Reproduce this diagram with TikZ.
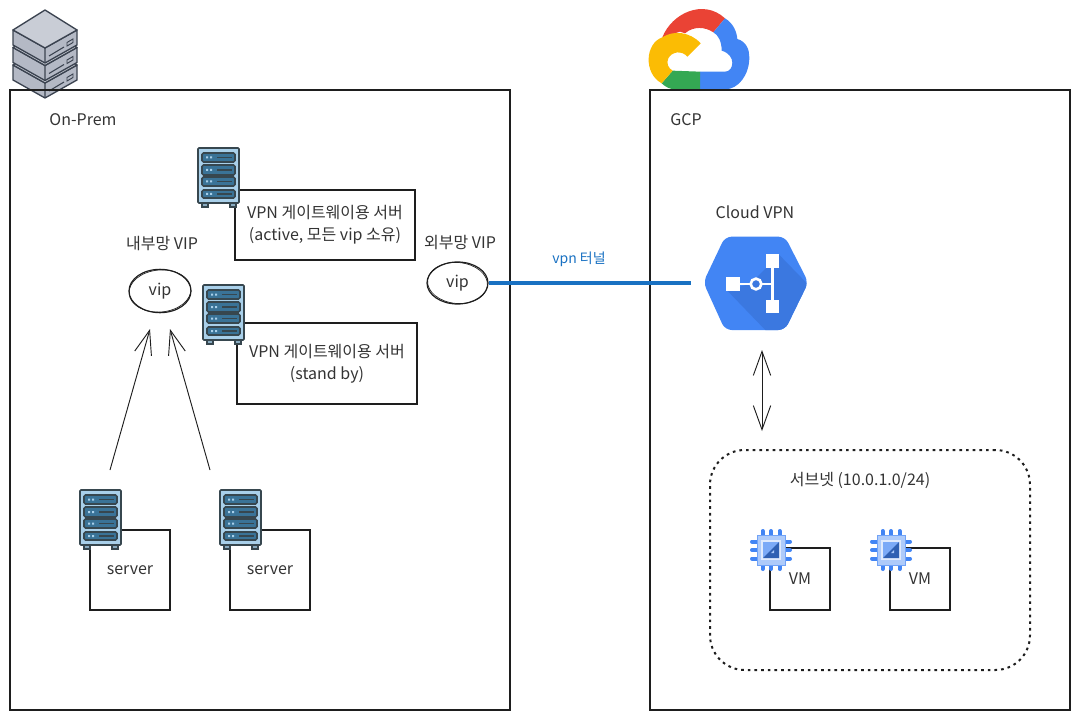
\documentclass[tikz,border=0pt]{standalone}
\usepackage{fontspec}
\setmainfont{Noto Sans CJK KR}
\usetikzlibrary{arrows.meta,shapes.geometric}
\definecolor{inkc}{HTML}{1E1E1E}
\definecolor{textc}{HTML}{333333}
\definecolor{rackc}{HTML}{37474F}
\definecolor{rackbg}{HTML}{A9D0EA}
\definecolor{slotc}{HTML}{3A7397}
\definecolor{stackc}{HTML}{3B4350}
\definecolor{stacktop}{HTML}{C9CDD6}
\definecolor{stackside}{HTML}{B4B9C5}
\definecolor{gblue}{HTML}{4285F4}
\definecolor{gblued}{HTML}{3B78E0}
\definecolor{gred}{HTML}{EA4335}
\definecolor{gyellow}{HTML}{FBBC04}
\definecolor{ggreen}{HTML}{34A853}
\definecolor{chipl}{HTML}{AECBFA}
\definecolor{tunnelc}{HTML}{1971C2}
\tikzset{
  box/.style = {draw=inkc, line width=1.5pt, align=center, text=textc},
  lbl/.style = {text=textc, align=center},
  vipnode/.style = {shape=ellipse, draw=inkc, line width=.9pt, text=textc, inner sep=0pt},
  flow/.style = {draw=inkc, line width=.7pt},
  rack/.pic = {
    \draw[rackc, line width=1pt, fill=slotc!60] (4,55) rectangle (10,59);
    \draw[rackc, line width=1pt, fill=slotc!60] (32,55) rectangle (38,59);
    \draw[rackc, line width=1.2pt, fill=rackbg, rounded corners=.8pt] (0,0) rectangle (41,55);
    \foreach \sy/\sh in {5/9, 17/10, 29/9, 42/8} {
      \draw[rackc, line width=1.2pt, fill=slotc, rounded corners=1.2pt] (4,\sy) rectangle +(33,\sh);
      \fill[rackbg] (8,\sy+\sh/2-1) rectangle +(2,2) (12,\sy+\sh/2-1) rectangle +(2,2);
      \draw[rackc, line width=.8pt] (19,\sy+\sh/2) -- +(15,0);
    }
  },
  chip/.pic = {
    \foreach \pp in {-8.5,0,8.5} {
      \draw[gblue, line width=3pt, line cap=round] (\pp,-19) -- (\pp,-14) (\pp,14) -- (\pp,19);
      \draw[gblue, line width=3pt, line cap=round] (-19,\pp) -- (-14,\pp) (14,\pp) -- (19,\pp);
    }
    \fill[chipl] (-14,-15) rectangle (14,15);
    \draw[gblue!75, line width=.6pt] (-14,-15) rectangle (14,15);
    \fill[chipl!40] (-10,-10) rectangle (10,10);
    \fill[gblue!70] (-8,-8) rectangle (8,8);
    \fill[gblued!80!black] (8,-8) -- (8,8) -- (-8,8) -- cycle;
    \fill[gblue!45] (3,0) -- (3,3) -- (0,3) -- cycle;
  }
}
\begin{document}
\begin{tikzpicture}[x=.75pt,y=-.75pt,font=\fontsize{12pt}{16.5pt}\selectfont]
\useasboundingbox (0,0) rectangle (1080,720);
% stack icon
\foreach \dy in {35,17.5,0} {
  \begin{scope}[shift={(0,\dy)}]
    \draw[stackc, line width=1pt, line join=round, fill=stackside] (13,30) -- (13,45) -- (45,63) -- (77,45) -- (77,30) -- (45,48) -- cycle;
    \draw[stackc, line width=1pt, line join=round, fill=stacktop] (45,10) -- (77,30) -- (45,48) -- (13,30) -- cycle;
    \draw[stackc, line width=.8pt] (45,48) -- (45,63) (49,56) -- (64,47);
    \draw[stackc, line width=.7pt] (67,46) -- (73,42.5) -- (73,39) -- (67,42.5) -- cycle;
  \end{scope}
}
% google cloud
\begin{scope}[shift={(630,0)},x=.25pt,y=-.25pt]
  \fill[gred] (97,112) .. controls (125,40) and (220,-5) .. (285,55) -- (250,97) .. controls (225,80) and (190,78) .. (165,100) -- (150,95) -- cycle;
  \fill[gblue] (285,55) .. controls (310,70) and (320,95) .. (322,117) .. controls (350,125) and (358,150) .. (358,172) .. controls (358,225) and (325,268) .. (285,268) -- (210,268) -- (210,215) -- (285,215) .. controls (312,215) and (320,165) .. (275,152) .. controls (275,125) and (265,105) .. (250,97) -- cycle;
  \fill[ggreen] (128,212) -- (210,215) -- (210,268) -- (135,268) .. controls (120,268) and (105,260) .. (95,250) -- cycle;
  \fill[gyellow] (95,250) .. controls (40,220) and (45,130) .. (97,112) .. controls (130,90) and (180,95) .. (212,130) -- (172,170) .. controls (155,150) and (125,155) .. (115,175) .. controls (108,190) and (115,205) .. (128,212) -- cycle;
\end{scope}
% outer boxes
\node[box, minimum width=375pt, minimum height=465pt] (onprem) at (260,400) {};
\node[box, minimum width=315pt, minimum height=465pt] (gcp) at (860,400) {};
\node[lbl] (onpremlbl) at (83,120) {On-Prem};
\node[lbl] (gcplbl) at (686,120) {GCP};
% vpn gateways
\node[box, minimum width=135pt, minimum height=52.5pt] (gwactive) at (325,225) {VPN 게이트웨이용 서버\\(active, 모든 vip 소유)};
\node[box, minimum width=135pt, minimum height=60.75pt] (gwstandby) at (327,363.5) {VPN 게이트웨이용 서버\\(stand by)};
\pic at (198,148) {rack};
\pic at (203,285) {rack};
% vips
\node[lbl] (vipinlbl) at (162,244) {내부망 VIP};
\node[lbl] (vipoutlbl) at (460,243) {외부망 VIP};
\node[vipnode, minimum width=46.5pt, minimum height=32.5pt] (vipin) at (160,291) {vip};
\node[vipnode, minimum width=45.75pt, minimum height=31.5pt] (vipout) at (457.5,283) {vip};
\draw[inkc, line width=.5pt, rotate around={5:(160,291)}] (160,291) ellipse [x radius=31, y radius=21];
\draw[inkc, line width=.5pt, rotate around={-5:(457.5,283)}] (457.5,283) ellipse [x radius=30, y radius=20.5];
% servers
\node[box, minimum width=60pt, minimum height=60pt] (srva) at (130,570) {server};
\node[box, minimum width=60pt, minimum height=60pt] (srvb) at (270,570) {server};
\pic at (80,490) {rack};
\pic at (220,490) {rack};
\coordinate (srvaout) at (110,470);
\coordinate (srvbout) at (210,470);
\coordinate (vipina) at (150,329);
\coordinate (vipinb) at (170,329);
\draw[flow, -{Straight Barb[length=18pt,width=13pt]}] (srvaout) -- (vipina);
\draw[flow, -{Straight Barb[length=18pt,width=13pt]}] (srvbout) -- (vipinb);
% tunnel
\coordinate (vpnin) at (691,283);
\draw[tunnelc, line width=3pt] (vipout.east) -- (vpnin);
\node[text=tunnelc, font=\fontsize{10.5pt}{12pt}\selectfont] (tunnellbl) at (579,259) {vpn 터널};
% cloud vpn
\node[lbl] (cloudvpnlbl) at (755,212) {Cloud VPN};
\begin{scope}[shift={(690,225)},x=.25pt,y=-.25pt]
  \path[fill=gblue, rounded corners=5pt] (40,172) -- (105,35) -- (285,35) -- (355,172) -- (285,315) -- (105,315) -- cycle;
  \begin{scope}
    \clip[rounded corners=5pt] (40,172) -- (105,35) -- (285,35) -- (355,172) -- (285,315) -- (105,315) -- cycle;
    \fill[gblued] (268,90) -- (380,205) -- (300,340) -- (250,340) -- (110,195) -- (180,177) -- cycle;
  \end{scope}
  \fill[white] (108,155) rectangle (150,197);
  \fill[white] (227,88) rectangle (268,128);
  \fill[white] (227,225) rectangle (268,265);
  \draw[white, line width=2pt] (150,177) -- (180,177) (216,177) -- (247,177) (247,128) -- (247,225);
  \draw[white, line width=2pt] (198,177) circle [radius=16];
\end{scope}
\coordinate (vpnlow) at (762,350);
\coordinate (subtop) at (762,431);
\draw[flow, {Straight Barb[length=18pt,width=13pt]}-{Straight Barb[length=18pt,width=13pt]}] (vpnlow) -- (subtop);
% subnet
\node[draw=inkc, line width=1.5pt, dash pattern=on 2pt off 3pt, rounded corners=26pt, minimum width=240pt, minimum height=165pt] (subnet) at (870,560) {};
\node[lbl] (subnetlbl) at (860,480) {서브넷 (10.0.1.0/24)};
\node[box, minimum width=45pt, minimum height=46.5pt] (vma) at (800,579) {VM};
\node[box, minimum width=45pt, minimum height=46.5pt] (vmb) at (920,579) {VM};
\pic at (771,550) {chip};
\pic at (891,550) {chip};
\end{tikzpicture}
\end{document}
